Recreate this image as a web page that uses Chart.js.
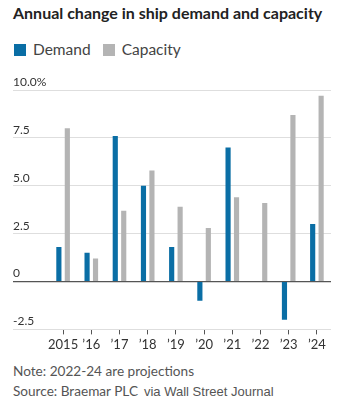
<!DOCTYPE html>
<html>
<head>
<meta charset="utf-8">
<script src="https://cdn.jsdelivr.net/npm/chart.js@4"></script>
<style>
  html, body { margin: 0; padding: 0; background: #fff; }
  body { width: 345px; height: 404px; position: relative; overflow: hidden; font-family: Lato, sans-serif; }
  #title { position: absolute; left: 13px; top: 3px; font-weight: bold; font-size: 16px; color: #222; white-space: nowrap; }
  #legend { position: absolute; left: 14px; top: 40px; font-size: 15.5px; color: #444; white-space: nowrap; }
  #legend span.box { display: inline-block; width: 12px; height: 12px; vertical-align: -1px; margin-right: 7px; }
  #legend span.item { margin-right: 12px; }
  #wrap { position: absolute; left: 0; top: 0; width: 345px; height: 360px; }
  #note { position: absolute; left: 13px; top: 361px; font-size: 13.6px; color: #555; line-height: 20px; white-space: nowrap; }
  #note .via { font-family: "Liberation Sans", Arial, sans-serif; font-size: 13px; margin-left: 6px; }
</style>
</head>
<body>
<div id="title">Annual change in ship demand and capacity</div>
<div id="legend"></div>
<div id="wrap"><canvas id="shipChart"></canvas></div>
<div id="note">Note: 2022-24 are projections<br>Source: Braemar PLC<span class="via">via Wall Street Journal</span></div>
<script>
// data (% change per year)
const years = ["2015", "\u201916", "\u201917", "\u201918", "\u201919", "\u201920", "\u201921", "\u201922", "\u201923", "\u201924"];
const demand = [1.8, 1.5, 7.6, 5.0, 1.8, -1.0, 7.0, null, -2.0, 3.0];
const capacity = [8.0, 1.2, 3.7, 5.8, 3.9, 2.8, 4.4, 4.1, 8.7, 9.7];
const yTicks = [-2.5, 0, 2.5, 5.0, 7.5, 10.0];

const blue = "#0a6ea5";
const grey = "#b4b4b4";

function buildLegend() {
  const el = document.getElementById("legend");
  [["Demand", blue], ["Capacity", grey]].forEach(([name, col]) => {
    const item = document.createElement("span");
    item.className = "item";
    item.innerHTML = `<span class="box" style="background:${col}"></span>${name}`;
    el.appendChild(item);
  });
}

function setup() {
  buildLegend();
  const ctx = document.getElementById("shipChart").getContext("2d");
  new Chart(ctx, {
    type: "bar",
    data: {
      labels: years,
      datasets: [
        { label: "Demand", data: demand, backgroundColor: blue },
        { label: "Capacity", data: capacity, backgroundColor: grey }
      ]
    },
    options: {
      responsive: true,
      maintainAspectRatio: false,
      animation: false,
      datasets: { bar: { categoryPercentage: 0.6, barPercentage: 0.61 } },
      layout: { padding: { left: 13, right: 14, top: 90, bottom: 4 } },
      plugins: {
        legend: { display: false },
        title: { display: false },
        tooltip: { enabled: false }
      },
      scales: {
        x: {
          grid: { offset: false, drawOnChartArea: false, tickLength: 5, tickColor: "#555" },
          border: { display: false },
          ticks: { font: { family: "Lato", size: 13 }, color: "#333", padding: 3, maxRotation: 0, autoSkip: false }
        },
        y: {
          min: -2.5,
          max: 10,
          afterFit: s => { s.width = 36; },
          afterBuildTicks: s => { s.ticks = yTicks.map(v => ({ value: v })); },
          grid: {
            tickLength: 36,
            color: c => c.tick && c.tick.value === 0 ? "#555" : "#dedede",
            tickColor: c => c.tick && c.tick.value === 0 ? "#555" : "#dedede",
            lineWidth: c => c.tick && c.tick.value === 0 ? 1.2 : 1
          },
          border: { display: false },
          ticks: {
            crossAlign: "far",
            labelOffset: -8,
            font: { family: "Lato", size: 12 },
            color: "#333",
            callback: v => v === 10 ? "10.0%" : v === 0 ? "0" : v.toFixed(1)
          }
        }
      }
    }
  });
}

window.onload = setup;
</script>
</body>
</html>
